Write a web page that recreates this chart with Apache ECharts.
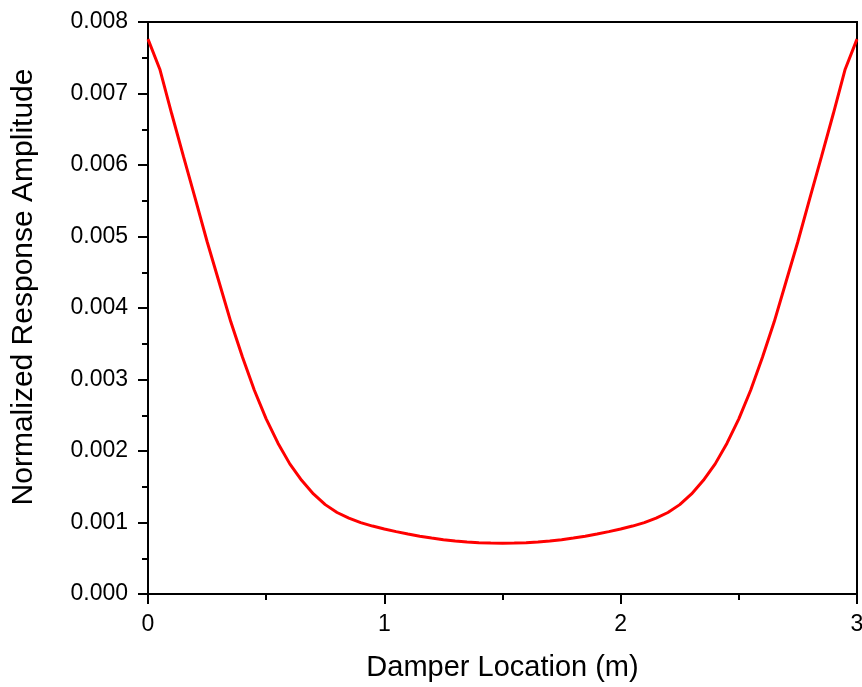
<!DOCTYPE html>
<html>
<head>
<meta charset="utf-8">
<title>Damper Location vs Normalized Response Amplitude</title>
<script src="https://cdn.jsdelivr.net/npm/echarts@6/dist/echarts.min.js"></script>
<style>
  html, body { margin: 0; padding: 0; background: #fff; }
  #chart { width: 862px; height: 687px; }
</style>
</head>
<body>
<div id="chart"></div>
<script>
// Damper position along the member (m)
var locations = [
  0.00, 0.05, 0.10, 0.15, 0.20, 0.25, 0.30, 0.35, 0.40, 0.45,
  0.50, 0.55, 0.60, 0.65, 0.70, 0.75, 0.80, 0.85, 0.90, 0.95,
  1.00, 1.05, 1.10, 1.15, 1.20, 1.25, 1.30, 1.35, 1.40, 1.45,
  1.50, 1.55, 1.60, 1.65, 1.70, 1.75, 1.80, 1.85, 1.90, 1.95,
  2.00, 2.05, 2.10, 2.15, 2.20, 2.25, 2.30, 2.35, 2.40, 2.45,
  2.50, 2.55, 2.60, 2.65, 2.70, 2.75, 2.80, 2.85, 2.90, 2.95,
  3.00
];

// Normalized response amplitude at each damper position
var amplitudes = [
  0.00776, 0.00734, 0.00672, 0.00612, 0.00553, 0.00493, 0.00437, 0.00381, 0.00331, 0.00285,
  0.00245, 0.00211, 0.00182, 0.00159, 0.00140, 0.00125, 0.00114, 0.00106, 0.000998, 0.000950,
  0.000910, 0.000872, 0.000838, 0.000808, 0.000782, 0.000760, 0.000742, 0.000728, 0.000718, 0.000712,
  0.000710, 0.000712, 0.000718, 0.000728, 0.000742, 0.000760, 0.000782, 0.000808, 0.000838, 0.000872,
  0.000910, 0.000950, 0.000998, 0.00106, 0.00114, 0.00125, 0.00140, 0.00159, 0.00182, 0.00211,
  0.00245, 0.00285, 0.00331, 0.00381, 0.00437, 0.00493, 0.00553, 0.00612, 0.00672, 0.00734,
  0.00776
];

var xTickLabels = ['0', '1', '2', '3'];
var yTickLabels = ['0.000', '0.001', '0.002', '0.003', '0.004', '0.005', '0.006', '0.007', '0.008'];

var FONT = '"Liberation Sans", Arial, sans-serif';

var points = locations.map(function (x, i) { return [x, amplitudes[i]]; });

var chart = echarts.init(document.getElementById('chart'), null, { renderer: 'canvas' });

chart.setOption({
  animation: false,
  backgroundColor: '#ffffff',
  grid: {
    left: 148, right: 5, top: 22, bottom: 93,
    outerBoundsMode: 'none',
    containLabel: false,
    show: true,
    borderColor: '#000',
    borderWidth: 2,
    backgroundColor: 'transparent'
  },
  graphic: [{
    type: 'text',
    x: 24,
    y: 287,
    rotation: Math.PI / 2,
    style: {
      text: 'Normalized Response Amplitude',
      font: '30px ' + FONT,
      fill: '#000',
      textAlign: 'center',
      textVerticalAlign: 'middle'
    }
  }],
  xAxis: {
    type: 'value',
    min: 0,
    max: 3,
    interval: 1,
    name: 'Damper Location (m)',
    nameLocation: 'middle',
    nameGap: 59,
    nameTextStyle: { fontFamily: FONT, fontSize: 29, color: '#000' },
    axisLine: { show: true, lineStyle: { color: '#000', width: 2 } },
    axisTick: { show: true, inside: false, length: 10, lineStyle: { color: '#000', width: 2 } },
    minorTick: { show: true, splitNumber: 2, length: 6, lineStyle: { color: '#000', width: 2 } },
    splitLine: { show: false },
    minorSplitLine: { show: false },
    axisLabel: {
      margin: 19,
      fontFamily: FONT,
      fontSize: 23,
      color: '#000',
      hideOverlap: false,
      formatter: function (v) { return xTickLabels[Math.round(v)]; }
    }
  },
  yAxis: {
    type: 'value',
    min: 0,
    max: 0.008,
    interval: 0.001,
    axisLine: { show: true, lineStyle: { color: '#000', width: 2 } },
    axisTick: { show: true, inside: false, length: 10, lineStyle: { color: '#000', width: 2 } },
    minorTick: { show: true, splitNumber: 2, length: 6, lineStyle: { color: '#000', width: 2 } },
    splitLine: { show: false },
    minorSplitLine: { show: false },
    axisLabel: {
      margin: 20,
      fontFamily: FONT,
      fontSize: 23,
      color: '#000',
      formatter: function (v) { return yTickLabels[Math.round(v / 0.001)]; }
    }
  },
  series: [{
    type: 'line',
    data: points,
    showSymbol: false,
    smooth: false,
    lineStyle: { color: '#ff0000', width: 3 },
    clip: true
  }]
});
</script>
</body>
</html>
